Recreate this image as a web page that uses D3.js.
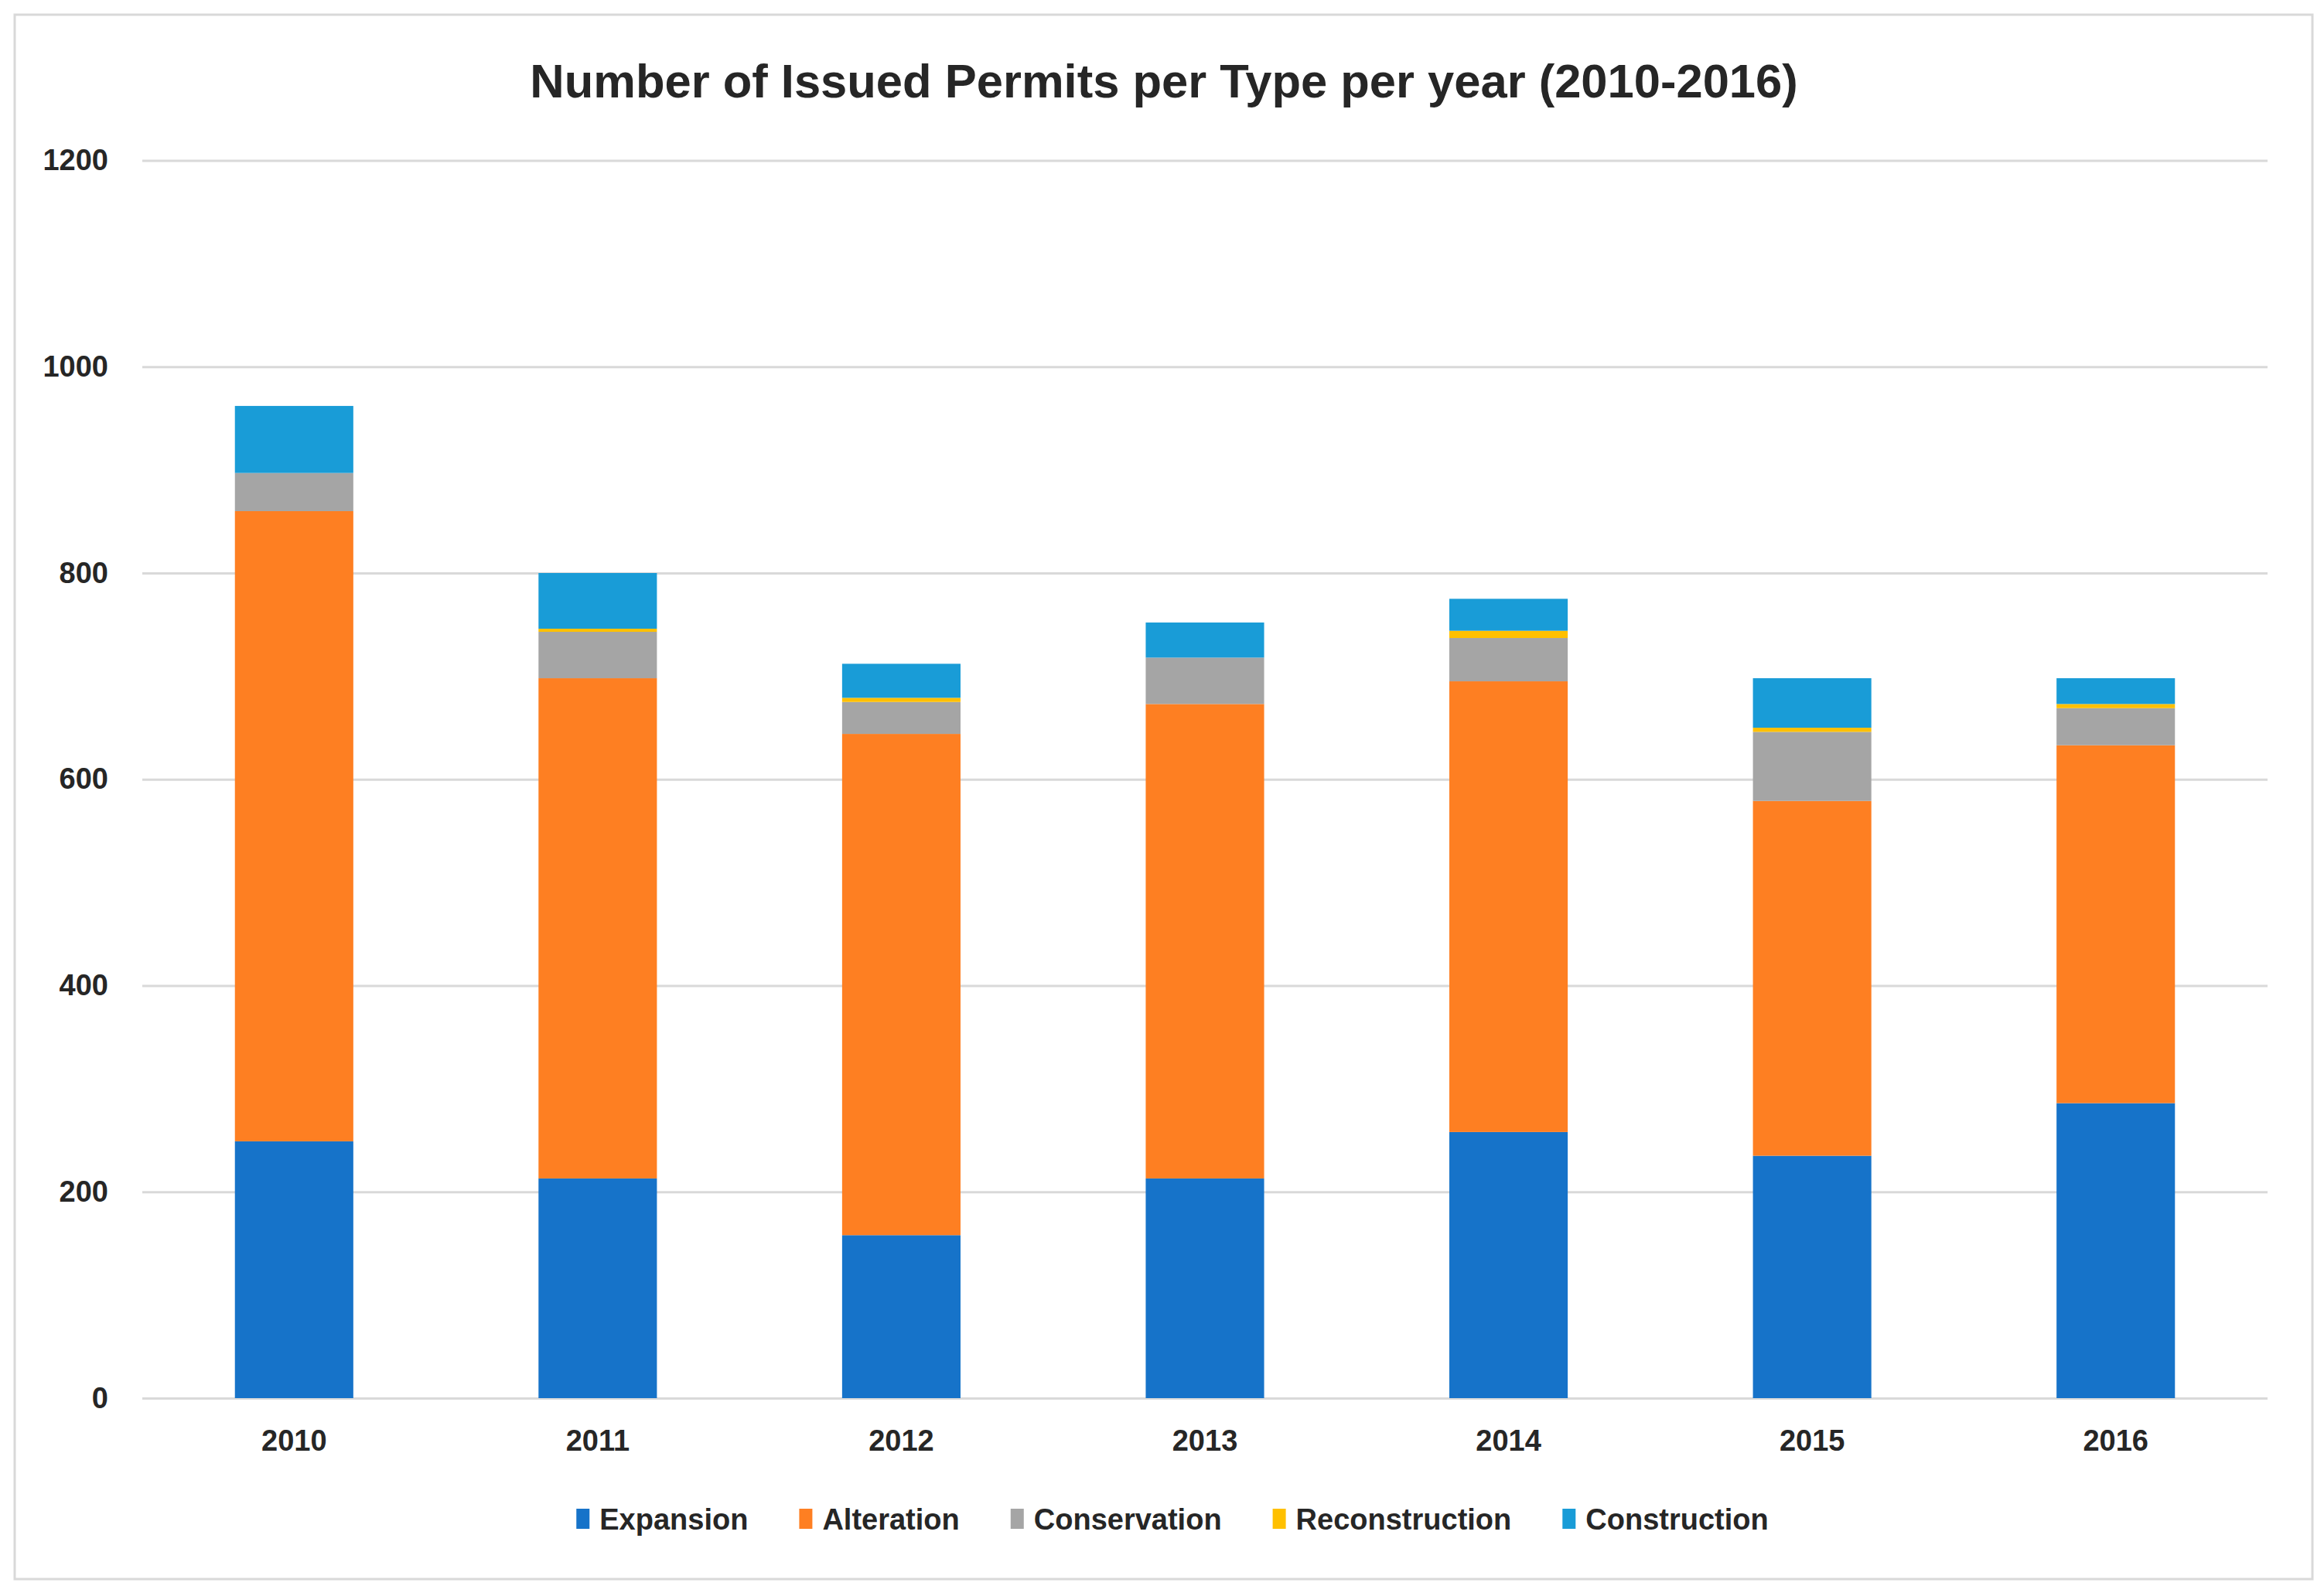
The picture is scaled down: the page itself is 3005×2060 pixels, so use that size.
<!DOCTYPE html>
<html>
<head>
<meta charset="utf-8">
<script src="https://cdn.jsdelivr.net/npm/d3@7"></script>
<style>
  html, body { margin: 0; padding: 0; background: #fff; overflow: hidden; }
  svg { display: block; }
</style>
</head>
<body>
<svg width="3005" height="2060" font-family="Liberation Sans, Arial, sans-serif"></svg>
<script>
// data
const years = ["2010", "2011", "2012", "2013", "2014", "2015", "2016"];
const types = ["Expansion", "Alteration", "Conservation", "Reconstruction", "Construction"];
const expansion      = [249, 213, 158, 213, 258, 235, 286];
const alteration     = [611, 485, 486, 460, 437, 344, 347];
const conservation   = [37, 45, 31, 45, 42, 67, 36];
const reconstruction = [0, 3, 4, 0, 7, 4, 4];
const construction   = [65, 54, 33, 34, 31, 48, 25];
const yTicks = [0, 200, 400, 600, 800, 1000, 1200];
const kleuren = ["#1673c9", "#fe7f22", "#a5a5a5", "#ffc000", "#199cd7"];

const lettertype = "Liberation Sans, Arial, sans-serif";

const reeksen = [expansion, alteration, conservation, reconstruction, construction];
const tabel = years.map((y, i) => {
  const rij = { jaar: y };
  types.forEach((t, k) => rij[t] = reeksen[k][i]);
  return rij;
});

const svg = d3.select("svg");
const width = +svg.attr("width");
const height = +svg.attr("height");

// chart border
svg.append("rect")
  .attr("x", 19).attr("y", 19)
  .attr("width", 2971).attr("height", 2023)
  .attr("fill", "#fff")
  .attr("stroke", "#d9d9d9")
  .attr("stroke-width", 3);

const margin = { top: 207.5, right: 73, bottom: 252, left: 184 };
const innerWidth = width - margin.left - margin.right;
const innerHeight = height - margin.top - margin.bottom;

const g = svg.append("g")
  .attr("transform", `translate(${margin.left},${margin.top})`);

const xScale = d3.scaleBand()
  .domain(years)
  .range([0, innerWidth])
  .paddingInner(0.61)
  .paddingOuter(0.305);

const yScale = d3.scaleLinear()
  .domain([0, 1200])
  .range([innerHeight, 0]);

// gridlines + y labels
const yAxis = d3.axisLeft(yScale)
  .tickValues(yTicks)
  .tickSize(-innerWidth)
  .tickPadding(44)
  .tickFormat(d3.format("d"));

const yg = g.append("g").call(yAxis)
  .attr("font-family", lettertype)
  .attr("font-size", 38);
yg.select(".domain").remove();
yg.selectAll(".tick line")
  .attr("stroke", "#d9d9d9")
  .attr("stroke-width", 3);
yg.selectAll(".tick text")
  .attr("font-weight", "bold")
  .attr("fill", "#262626");

// x labels
const xAxis = d3.axisBottom(xScale).tickSize(0).tickPadding(41);
const xg = g.append("g")
  .attr("transform", `translate(0,${innerHeight})`)
  .call(xAxis)
  .attr("font-family", lettertype)
  .attr("font-size", 38);
xg.select(".domain").remove();
xg.selectAll(".tick text")
  .attr("font-weight", "bold")
  .attr("fill", "#262626");

// stacked bars
const stapels = d3.stack().keys(types)(tabel);

g.selectAll("g.laag")
  .data(stapels)
  .enter()
  .append("g")
  .attr("class", "laag")
  .attr("fill", (d, i) => kleuren[i])
  .selectAll("rect")
  .data(d => d)
  .enter()
  .append("rect")
  .attr("x", d => xScale(d.data.jaar))
  .attr("y", d => yScale(d[1]))
  .attr("width", xScale.bandwidth())
  .attr("height", d => yScale(d[0]) - yScale(d[1]));

// title
svg.append("text")
  .attr("x", 1505)
  .attr("y", 126)
  .attr("text-anchor", "middle")
  .attr("font-family", lettertype)
  .attr("font-size", 61.5)
  .attr("font-weight", "bold")
  .attr("fill", "#262626")
  .text("Number of Issued Permits per Type per year (2010-2016)");

// legend
const legenda = svg.append("g");
let xPos = 0;
types.forEach((t, i) => {
  const item = legenda.append("g").attr("transform", `translate(${xPos},0)`);
  item.append("rect")
    .attr("x", 0).attr("y", -27)
    .attr("width", 17).attr("height", 26)
    .attr("fill", kleuren[i]);
  const tekst = item.append("text")
    .attr("x", 30)
    .attr("y", 0)
    .attr("font-family", lettertype)
    .attr("font-size", 38)
    .attr("font-weight", "bold")
    .attr("fill", "#262626")
    .text(t);
  xPos += 30 + tekst.node().getComputedTextLength() + 66;
});
const legendaBreedte = xPos - 66;
legenda.attr("transform", `translate(${1516 - legendaBreedte / 2},1978)`);
</script>
</body>
</html>
